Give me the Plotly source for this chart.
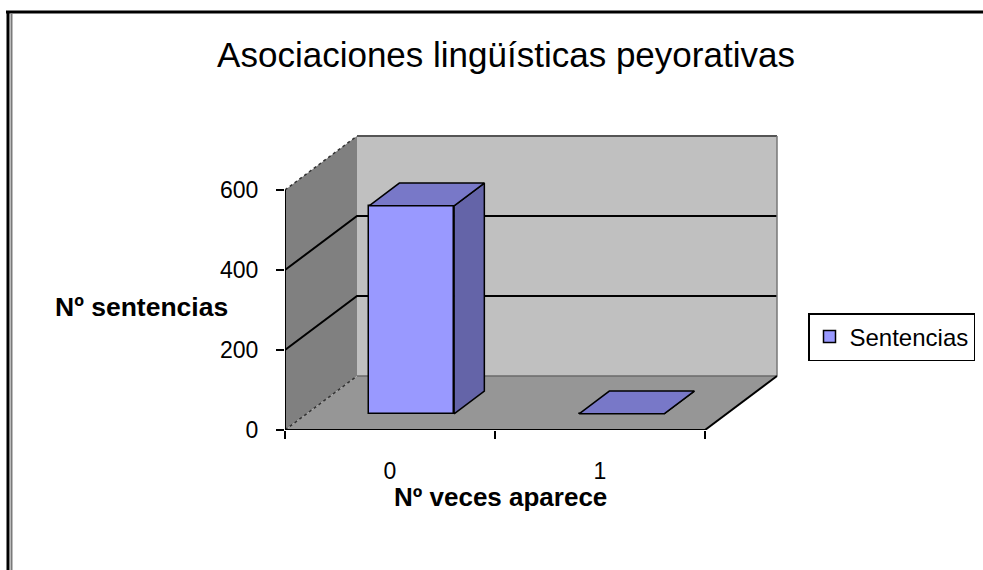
import plotly.graph_objects as go

# ---------------- data ----------------
categories = ["0", "1"]
values = [520, 0]
series_name = "Sentencias"
y_tick_values = [0, 200, 400, 600]
y_tick_labels = ["0", "200", "400", "600"]
title_text = "Asociaciones lingüísticas peyorativas"
x_title = "Nº veces aparece"
y_title = "Nº sentencias"

# ---------------- geometry / style ----------------
W, H = 983, 570
L, R, T, B = 285, 790, 130, 430          # plot area in pixels
PX_PER_X = 210.0
PX_PER_Y = 0.4
X_START = -0.5
X_END = X_START + (R - L) / PX_PER_X
Y_END = (B - T) / PX_PER_Y
Y_MAX = 600
DX = 72 / PX_PER_X                          # depth offset (x units)
DY = 54 / PX_PER_Y                          # depth offset (y units)
D0, D1 = 0.30, 0.72                         # bar depth span
BAR_W = 85 / PX_PER_X
FONT = "Liberation Sans, Arial, sans-serif"

FRONT = "#9999FF"
TOP = "#7878C8"
SIDE = "#6464A8"
BACKWALL = "#C0C0C0"
SIDEWALL = "#808080"
FLOOR = "#969696"

n = len(categories)
XL, XR = -0.5, n - 0.5


def proj(x, y, d):
    return x + d * DX, y + d * DY


def path(points, close=True):
    s = "M " + " L ".join(f"{x},{y}" for x, y in points)
    return s + (" Z" if close else "")


def pxp(px):
    return (px - L) / (R - L)


def pyp(py):
    return (B - py) / (B - T)


fig = go.Figure()

shapes = []
# walls and floor
shapes.append(dict(type="path", xref="x", yref="y", layer="below",
                   path=path([proj(XL, 0, 1), proj(XR, 0, 1), proj(XR, Y_MAX, 1), proj(XL, Y_MAX, 1)]),
                   fillcolor=BACKWALL, line=dict(width=0)))
shapes.append(dict(type="path", xref="x", yref="y", layer="below",
                   path=path([proj(XL, 0, 0), proj(XL, 0, 1), proj(XL, Y_MAX, 1), proj(XL, Y_MAX, 0)]),
                   fillcolor=SIDEWALL, line=dict(width=0)))
shapes.append(dict(type="path", xref="x", yref="y", layer="below",
                   path=path([proj(XL, 0, 0), proj(XR, 0, 0), proj(XR, 0, 1), proj(XL, 0, 1)]),
                   fillcolor=FLOOR, line=dict(width=0)))

# gridlines
for t in y_tick_values[1:-1]:
    shapes.append(dict(type="path", xref="x", yref="y", layer="below",
                       path=path([proj(XL, t, 0), proj(XL, t, 1), proj(XR, t, 1)], close=False),
                       line=dict(color="black", width=2)))
# top edges
shapes.append(dict(type="path", xref="x", yref="y", layer="below",
                   path=path([proj(XL, Y_MAX, 0), proj(XL, Y_MAX, 1)], close=False),
                   line=dict(color="#333333", width=1.5, dash="dot")))
shapes.append(dict(type="path", xref="x", yref="y", layer="below",
                   path=path([proj(XL, Y_MAX, 1), proj(XR, Y_MAX, 1)], close=False),
                   line=dict(color="#555555", width=2)))
# back wall right edge
shapes.append(dict(type="path", xref="x", yref="y", layer="below",
                   path=path([proj(XR, 0, 1), proj(XR, Y_MAX, 1)], close=False),
                   line=dict(color="#777777", width=1.5)))
# floor edges
shapes.append(dict(type="path", xref="x", yref="y", layer="below",
                   path=path([proj(XL, 0, 0), proj(XL, 0, 1)], close=False),
                   line=dict(color="#333333", width=1.5, dash="dot")))
shapes.append(dict(type="path", xref="x", yref="y", layer="below",
                   path=path([proj(XL, 0, 1), proj(XR, 0, 1)], close=False),
                   line=dict(color="#6a6a6a", width=1.5)))
shapes.append(dict(type="path", xref="x", yref="y", layer="below",
                   path=path([proj(XR, 0, 0), proj(XR, 0, 1)], close=False),
                   line=dict(color="black", width=2)))
# axis lines
shapes.append(dict(type="line", xref="x", yref="y", layer="below",
                   x0=XL, y0=0, x1=XL, y1=Y_MAX, line=dict(color="black", width=2)))
shapes.append(dict(type="line", xref="x", yref="y", layer="below",
                   x0=XL, y0=0, x1=XR, y1=0, line=dict(color="black", width=2)))

# outer frame
shapes.append(dict(type="line", xref="paper", yref="paper", x0=pxp(6), y0=pyp(12), x1=pxp(990), y1=pyp(12),
                   line=dict(color="black", width=3)))
shapes.append(dict(type="line", xref="paper", yref="paper", x0=pxp(8), y0=pyp(11), x1=pxp(8), y1=pyp(580),
                   line=dict(color="black", width=3)))
shapes.append(dict(type="line", xref="paper", yref="paper", x0=pxp(11.5), y0=pyp(14), x1=pxp(11.5), y1=pyp(580),
                   line=dict(color="#7a7a7a", width=2)))

# ---------------- bars ----------------
xs_front = [i + D0 * DX for i in range(n)]
base_front = D0 * DY
dd = D1 - D0

for i, v in enumerate(values):
    xc = xs_front[i]
    xl, xr = xc - BAR_W / 2, xc + BAR_W / 2
    b = base_front
    # side face
    sx = [xr, xr, xr + dd * DX, xr + dd * DX, xr]
    sy = [b, b + v, b + v + dd * DY, b + dd * DY, b]
    fig.add_trace(go.Scatter(x=sx, y=sy, fill="toself", fillcolor=SIDE, mode="lines",
                             line=dict(color="black", width=1.5), showlegend=False, hoverinfo="skip"))
    # top face
    tx = [xl, xr, xr + dd * DX, xl + dd * DX, xl]
    ty = [b + v, b + v, b + v + dd * DY, b + v + dd * DY, b + v]
    fig.add_trace(go.Scatter(x=tx, y=ty, fill="toself", fillcolor=TOP, mode="lines",
                             line=dict(color="black", width=1.5), showlegend=False, hoverinfo="skip"))

fig.add_trace(go.Bar(x=xs_front, y=values, base=[base_front] * n, width=BAR_W,
                     name=series_name, marker=dict(color=FRONT, line=dict(color="black", width=1.5)),
                     showlegend=True))

# ---------------- layout ----------------
fig.update_layout(
    width=W, height=H,
    margin=dict(l=L, r=W - R, t=T, b=H - B, pad=0),
    paper_bgcolor="white", plot_bgcolor="rgba(0,0,0,0)",
    font=dict(family=FONT, color="black"),
    title=dict(text=title_text, x=506 / W, xanchor="center", xref="container",
               y=1 - 55 / H, yanchor="middle", yref="container",
               font=dict(size=35, family=FONT, color="black")),
    shapes=shapes,
    showlegend=True,
    legend=dict(xref="container", yref="container", x=808 / W, y=1 - 313 / H,
                xanchor="left", yanchor="top", bgcolor="white",
                bordercolor="black", borderwidth=1.5, font=dict(size=24, family=FONT)),
    xaxis=dict(range=[X_START, X_END], showgrid=False, zeroline=False, showline=False,
               tickmode="array", tickvals=list(range(n)), ticktext=categories,
               ticks="outside", ticklen=8, tickcolor="rgba(0,0,0,0)",
               ticklabelstandoff=12,
               tickfont=dict(size=23, family=FONT),
               minor=dict(tickmode="array", tickvals=[i - 0.5 for i in range(n + 1)],
                          ticks="outside", ticklen=8, tickcolor="black", tickwidth=1.5, showgrid=False)),
    yaxis=dict(range=[0, Y_END], showgrid=False, zeroline=False, showline=False,
               tickmode="array", tickvals=y_tick_values, ticktext=y_tick_labels,
               ticks="outside", ticklen=8, tickcolor="black", tickwidth=1.5,
               ticklabelstandoff=13,
               tickfont=dict(size=23, family=FONT)),
    bargap=0,
)

fig.add_annotation(text=y_title, xref="paper", yref="paper", x=pxp(141), y=pyp(307),
                   xanchor="center", yanchor="middle", showarrow=False,
                   font=dict(size=26.5, family=FONT, color="black", weight="bold"))
fig.add_annotation(text=x_title, xref="paper", yref="paper", x=pxp(500), y=pyp(497),
                   xanchor="center", yanchor="middle", showarrow=False,
                   font=dict(size=26, family=FONT, color="black", weight="bold"))

fig.write_html("out.html", config={"displayModeBar": False},
               post_script="document.body.style.margin='0';")
